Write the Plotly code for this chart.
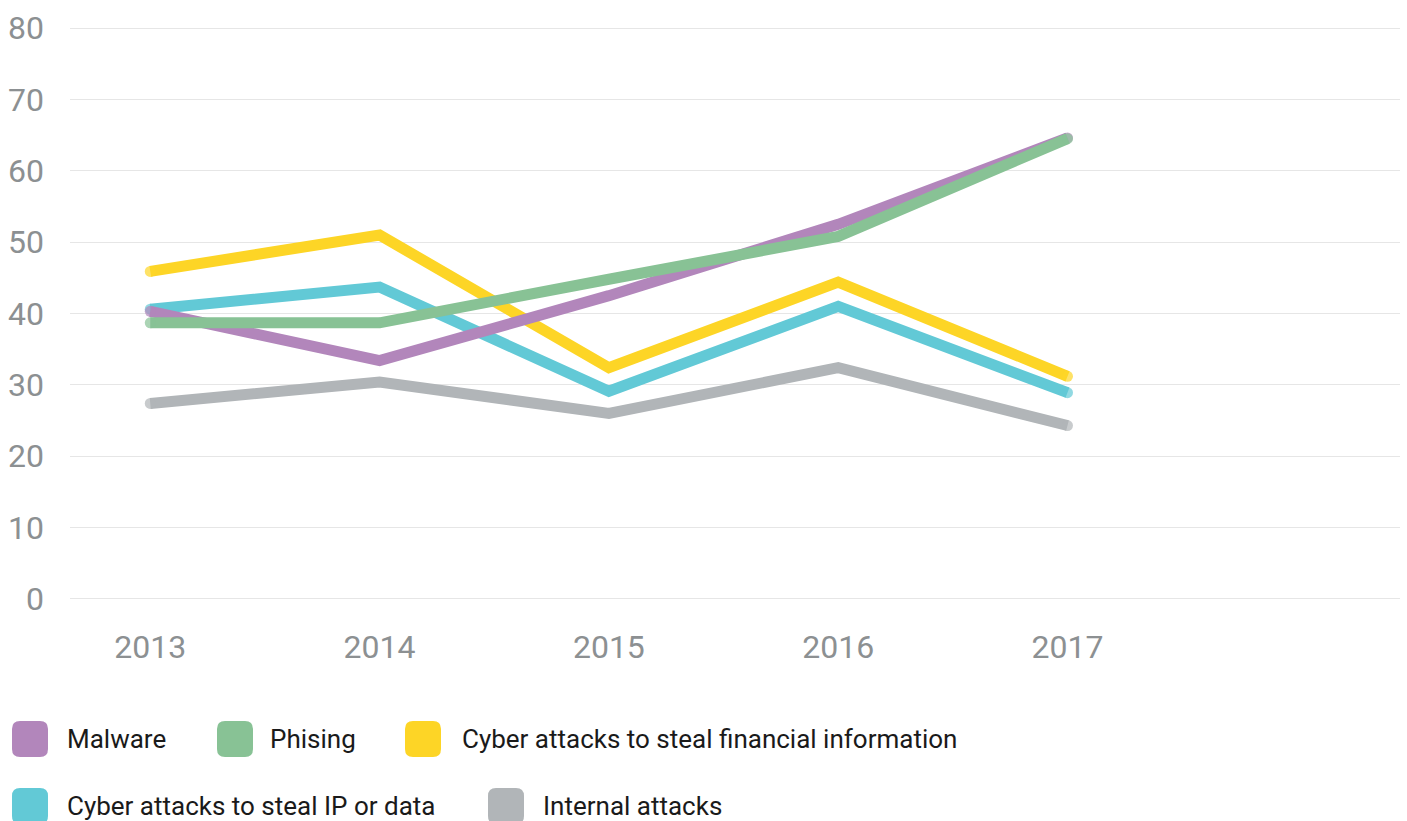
import plotly.graph_objects as go

years = [2013, 2014, 2015, 2016, 2017]
malware = [40.3, 33.4, 42.5, 52.5, 64.6]
phishing = [38.7, 38.7, 44.8, 50.8, 64.5]
financial = [45.9, 51.0, 32.4, 44.4, 31.2]
ip_data = [40.6, 43.7, 29.1, 41.0, 28.9]
internal = [27.4, 30.4, 26.0, 32.4, 24.3]

y_ticks = [0, 10, 20, 30, 40, 50, 60, 70, 80]

names = ["Malware", "Phising", "Cyber attacks to steal financial information",
         "Cyber attacks to steal IP or data", "Internal attacks"]
colors = {"Malware": "#b286bb", "Phising": "#88c295",
          "Cyber attacks to steal financial information": "#fdd526",
          "Cyber attacks to steal IP or data": "#62c9d6",
          "Internal attacks": "#b1b5b8"}
series = {"Malware": malware, "Phising": phishing,
          "Cyber attacks to steal financial information": financial,
          "Cyber attacks to steal IP or data": ip_data,
          "Internal attacks": internal}

W, H = 1407, 821
L, R, T, B = 70, 7, 27, 221
PW, PH = W - L - R, H - T - B

def px(x):
    return (x - L) / PW

def py(y):
    return (H - B - y) / PH

fig = go.Figure()
draw_order = ["Internal attacks", "Cyber attacks to steal IP or data",
              "Cyber attacks to steal financial information", "Malware", "Phising"]
LW = 11
for n in draw_order:
    vals = series[n]
    sizes = [LW] + [0] * (len(vals) - 2) + [LW]
    fig.add_trace(go.Scatter(
        x=years, y=vals, name=n, mode="lines+markers",
        line=dict(color=colors[n], width=LW),
        marker=dict(color=colors[n], size=sizes, line=dict(width=0)),
        showlegend=False, hoverinfo="x+y+name"))

# Legend (custom rounded swatches)
legend_items = [
    ("Malware", 12, 739, 65),
    ("Phising", 217, 739, 268),
    ("Cyber attacks to steal financial information", 405, 739, 460),
    ("Cyber attacks to steal IP or data", 12, 806, 65),
    ("Internal attacks", 488, 806, 541),
]
shapes = []
annotations = []
S, RAD = 36, 8
for n, sx, cy, tx in legend_items:
    x0, x1 = sx, sx + S
    y0, y1 = cy - S / 2, cy + S / 2
    pts = [
        ("M", (x0 + RAD, y0)), ("L", (x1 - RAD, y0)), ("Q", (x1, y0), (x1, y0 + RAD)),
        ("L", (x1, y1 - RAD)), ("Q", (x1, y1), (x1 - RAD, y1)),
        ("L", (x0 + RAD, y1)), ("Q", (x0, y1), (x0, y1 - RAD)),
        ("L", (x0, y0 + RAD)), ("Q", (x0, y0), (x0 + RAD, y0)),
    ]
    path = ""
    for seg in pts:
        cmd = seg[0]
        coords = " ".join(f"{px(a):.5f},{py(b):.5f}" for a, b in seg[1:])
        path += f"{cmd} {coords} "
    path += "Z"
    shapes.append(dict(type="path", path=path, xref="paper", yref="paper",
                       fillcolor=colors[n], line=dict(width=0), layer="above"))
    annotations.append(dict(text=n, x=px(tx), y=py(cy), xref="paper", yref="paper",
                            xanchor="left", yanchor="middle", showarrow=False,
                            font=dict(family="Roboto", size=26, color="#1a1a1a")))

fig.update_layout(
    width=W, height=H, autosize=False,
    margin=dict(l=L, r=R, t=T, b=B, pad=0),
    paper_bgcolor="white", plot_bgcolor="white",
    font=dict(family="Roboto", color="#8c9092"),
    shapes=shapes, annotations=annotations,
    showlegend=False,
    xaxis=dict(range=[2012.65, 2018.45], tickvals=years, ticktext=[str(y) for y in years],
               showgrid=False, zeroline=False, showline=False, ticks="",
               tickfont=dict(family="Roboto", size=32, color="#8c9092"),
               ticklabelstandoff=25),
    yaxis=dict(range=[-0.15, 80.15], tickvals=y_ticks, showgrid=True, gridcolor="#e6e6e6",
               gridwidth=1, zeroline=False, showline=False, ticks="",
               tickfont=dict(family="Roboto", size=32, color="#8c9092"),
               ticklabelstandoff=25),
)

fig.write_html("out.html")
